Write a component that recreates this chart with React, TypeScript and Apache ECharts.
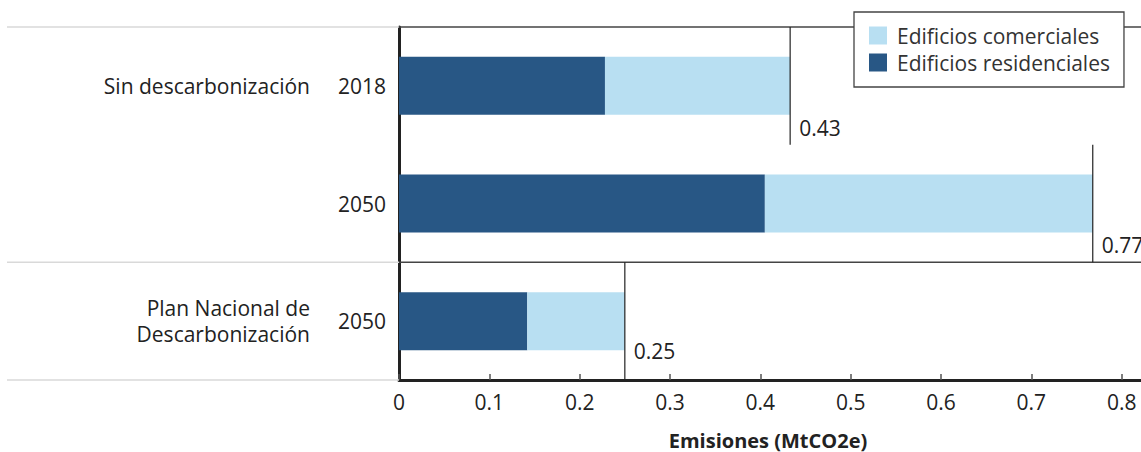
import React, { useEffect, useRef } from "react";
import * as echarts from "echarts";

const years = ["2018", "2050", "2050"];
const groups = ["Sin descarbonización", "", "Plan Nacional de\nDescarbonización"];
const residential = [0.228, 0.405, 0.142];
const commercial = [0.205, 0.363, 0.108];
const totals = [0.433, 0.768, 0.25];
const totalLabels = ["0.43", "0.77", "0.25"];
const groupRanges = [
  [0, 1],
  [2, 2],
];
const seriesNames = ["Edificios comerciales", "Edificios residenciales"];
const axisTitle = "Emisiones (MtCO2e)";

const FONT = '"Open Sans", "Noto Sans", sans-serif';
const DARK = "#285785";
const LIGHT = "#b8dff2";
const FS = 21;

export default function App() {
  const ref = useRef<HTMLDivElement>(null);
  useEffect(() => {
    if (!ref.current) return;
    const chart = echarts.init(ref.current, undefined, { renderer: "svg" });
    const option: any = {
      animation: false,
      backgroundColor: "#fff",
      textStyle: { fontFamily: FONT },
      grid: { left: 399, top: 27, height: 353, width: 813, outerBoundsMode: "none", containLabel: false },
      legend: {
        data: seriesNames,
        orient: "vertical",
        left: 854,
        top: 12,
        padding: [13, 14, 14, 15],
        itemWidth: 18,
        itemHeight: 18,
        itemGap: 6,
        icon: "rect",
        borderColor: "#444",
        borderWidth: 1.3,
        backgroundColor: "#fff",
        textStyle: { fontSize: FS, color: "#333", fontFamily: FONT, padding: [0, 0, 0, 5] },
      },
      xAxis: {
        type: "value",
        min: 0,
        max: 0.9,
        interval: 0.1,
        axisLine: { show: true, lineStyle: { color: "#222", width: 3 } },
        axisTick: { show: true, inside: true, length: 6, lineStyle: { color: "#555", width: 1.5 } },
        axisLabel: { margin: 11, fontSize: FS, color: "#222", fontFamily: FONT, hideOverlap: false },
        splitLine: { show: false },
      },
      yAxis: [
        {
          type: "category",
          data: years,
          inverse: true,
          axisLine: { show: true, lineStyle: { color: "#222", width: 3 } },
          axisTick: { show: false },
          axisLabel: { margin: 13, fontSize: FS, color: "#222", fontFamily: FONT },
          splitLine: { show: false },
        },
        {
          type: "category",
          data: groups,
          inverse: true,
          position: "left",
          axisLine: { show: false },
          axisTick: { show: false },
          axisLabel: {
            margin: 89,
            fontSize: FS,
            lineHeight: 26,
            color: "#222",
            fontFamily: FONT,
            align: "right",
          },
          splitLine: { show: false },
        },
      ],
      graphic: [
        {
          type: "text",
          x: 768,
          y: 440,
          style: {
            text: axisTitle,
            align: "center",
            verticalAlign: "middle",
            fontSize: 20,
            fontWeight: "bold",
            fontFamily: FONT,
            fill: "#222",
          },
        },
      ],
      series: [
        {
          type: "custom",
          yAxisIndex: 0,
          silent: true,
          z: 1,
          data: groupRanges,
          encode: { x: 0, y: 1 },
          renderItem: (params: any, api: any) => {
            const s = api.value(0);
            const e = api.value(1);
            const bandH = api.size([0, 1])[1];
            const top = api.coord([0, s])[1] - bandH / 2;
            const bottom = api.coord([0, e])[1] + bandH / 2;
            const left = params.coordSys.x;
            const right = left + params.coordSys.width;
            const children: any[] = [
              {
                type: "line",
                shape: { x1: 7, y1: top, x2: left, y2: top },
                style: { stroke: "#d9d9d9", lineWidth: 1.5 },
              },
              {
                type: "line",
                shape: { x1: left, y1: top, x2: right, y2: top },
                style: { stroke: "#444", lineWidth: 1.5 },
              },
            ];
            if (params.dataIndex === groupRanges.length - 1) {
              children.push({
                type: "line",
                shape: { x1: 7, y1: bottom, x2: left, y2: bottom },
                style: { stroke: "#d9d9d9", lineWidth: 1.5 },
              });
            }
            return { type: "group", children };
          },
        },
        {
          name: seriesNames[1],
          type: "bar",
          stack: "total",
          yAxisIndex: 0,
          barWidth: 58,
          itemStyle: { color: DARK },
          data: residential,
          z: 2,
        },
        {
          name: seriesNames[0],
          type: "bar",
          stack: "total",
          yAxisIndex: 0,
          barWidth: 58,
          itemStyle: { color: LIGHT },
          data: commercial,
          z: 2,
        },
        {
          type: "custom",
          yAxisIndex: 0,
          silent: true,
          z: 3,
          data: totals.map((t, i) => [t, i]),
          encode: { x: 0, y: 1 },
          renderItem: (params: any, api: any) => {
            const v = api.value(0);
            const idx = api.value(1);
            const p = api.coord([v, idx]);
            const bandH = api.size([0, 1])[1];
            const lift = idx === years.length - 1 ? 29 : 17;
            return {
              type: "group",
              children: [
                {
                  type: "line",
                  shape: { x1: p[0], y1: p[1] - bandH / 2, x2: p[0], y2: p[1] + bandH / 2 },
                  style: { stroke: "#222", lineWidth: 1.2 },
                },
                {
                  type: "text",
                  x: p[0] + 9,
                  y: p[1] + bandH / 2 - lift,
                  style: {
                    text: totalLabels[params.dataIndex],
                    fill: "#222",
                    fontSize: FS,
                    fontFamily: FONT,
                    align: "left",
                    verticalAlign: "middle",
                  },
                },
              ],
            };
          },
        },
      ],
    };
    chart.setOption(option);
    return () => chart.dispose();
  }, []);
  return (
    <div
      ref={ref}
      style={{ position: "absolute", left: 0, top: 0, width: 1141, height: 452 }}
    />
  );
}
